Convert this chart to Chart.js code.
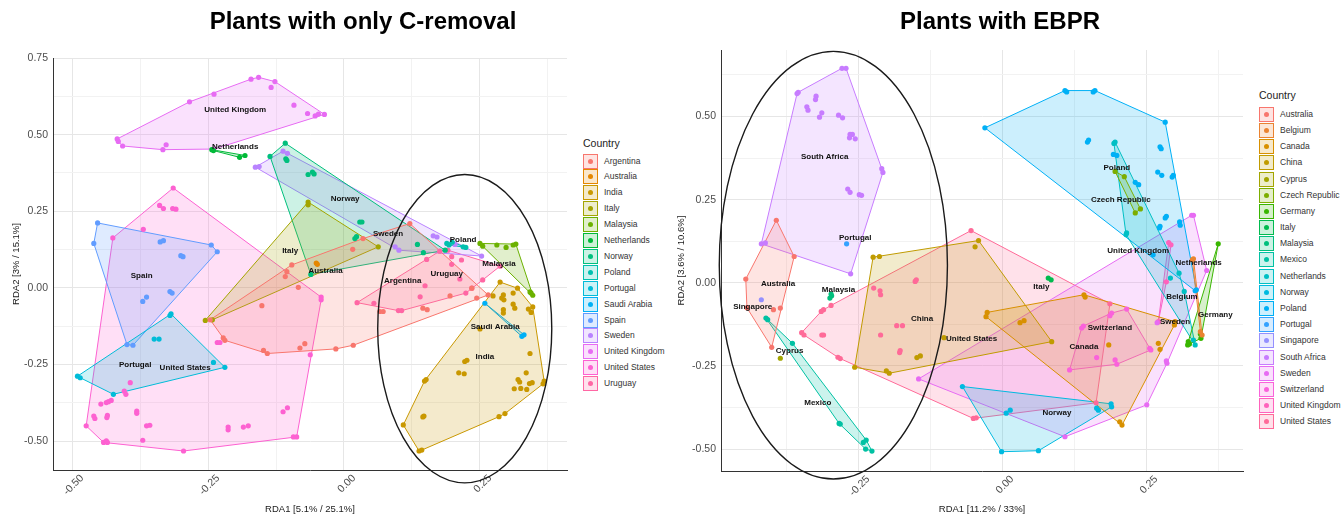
<!DOCTYPE html>
<html>
<head>
<meta charset="utf-8">
<script src="https://cdn.jsdelivr.net/npm/chart.js@4.4.0/dist/chart.umd.min.js"></script>
<style>
  body { margin: 0; background: #fff; font-family: "Liberation Sans", Arial, sans-serif; }
  #wrap { position: relative; width: 1343px; height: 520px; overflow: hidden; }
  canvas { position: absolute; top: 0; }
  .title { position: absolute; top: 7px; font-weight: bold; font-size: 24px; color: #000; transform: translateX(-50%); white-space: nowrap; }
  .legTitle { position: absolute; font-size: 10.5px; color: #222; line-height: 12px; }
  .legRow { position: absolute; height: 15px; font-size: 8.5px; color: #333; line-height: 15px; white-space: nowrap; }
  .key { position: absolute; left: 0; top: 0; width: 13px; height: 13px; border: 1px solid; }
  .key i { position: absolute; left: 4px; top: 4px; width: 5px; height: 5px; border-radius: 50%; }
  .legRow span { position: absolute; left: 21px; top: 0; }
</style>
</head>
<body>
<div id="wrap">
  <canvas id="leftChart" width="575" height="520" style="left:0"></canvas>
  <canvas id="rightChart" width="580" height="520" style="left:670px"></canvas>
  <div class="title" style="left:363px">Plants with only C-removal</div>
  <div class="title" style="left:1000px">Plants with EBPR</div>
</div>
<script>
// ---- panel 1 : plants with only C-removal ----
const leftCountries = ['Argentina', 'Australia', 'India', 'Italy', 'Malaysia', 'Netherlands', 'Norway', 'Poland',
  'Portugal', 'Saudi Arabia', 'Spain', 'Sweden', 'United Kingdom', 'United States', 'Uruguay'];

const leftArgentina = [[-0.246,-0.104],[-0.222,-0.163],[-0.219,-0.171],[-0.151,-0.058],[-0.148,-0.204],[-0.141,-0.214],
  [-0.081,-0.196],[-0.072,-0.182],[-0.015,-0.199],[0.017,-0.187],[-0.084,0.002],[-0.108,0.037],[-0.105,0.053],
  [-0.096,0.075],[0.016,0.126],[0.035,0.161],[0.121,0.210],[0.066,-0.077],[0.072,-0.077],[0.145,-0.066],
  [0.153,-0.071],[0.195,-0.026],[0.235,-0.001],[0.244,-0.033],[0.265,-0.023]];
const leftAustralia = [[-0.051,0.081],[-0.049,0.077]];
const leftIndia = [[0.287,0.019],[0.274,-0.026],[0.293,-0.023],[0.290,-0.033],[0.294,-0.039],[0.311,-0.017],[0.319,-0.001],
  [0.311,-0.053],[0.314,-0.066],[0.293,-0.071],[0.293,-0.082],[0.339,-0.069],[0.344,-0.080],[0.347,-0.062],
  [0.250,-0.134],[0.342,-0.214],[0.226,-0.236],[0.222,-0.240],[0.211,-0.277],[0.221,-0.280],[0.151,-0.299],
  [0.148,-0.304],[0.335,-0.277],[0.320,-0.299],[0.323,-0.307],[0.313,-0.329],[0.325,-0.328],[0.336,-0.331],
  [0.341,-0.312],[0.346,-0.309],[0.368,-0.304],[0.366,-0.313],[0.109,-0.447],[0.145,-0.421],[0.147,-0.418],
  [0.285,-0.420],[0.296,-0.410],[0.138,-0.532],[0.143,-0.529]];
const leftItaly = [[-0.066,0.280],[-0.066,0.271],[0.063,0.134],[-0.255,-0.106],[-0.242,-0.104]];
const leftMalaysia = [[0.250,0.145],[0.255,0.136],[0.281,0.140],[0.298,0.132],[0.311,0.140],[0.316,0.143],
  [0.344,-0.017],[0.347,-0.024],[0.342,-0.013]];
const leftNetherlands = [[-0.243,0.451],[-0.240,0.448],[-0.192,0.426],[-0.182,0.432]];
const leftNorway = [[-0.136,0.429],[-0.108,0.472],[-0.107,0.421],[-0.105,0.416],[-0.066,0.370],[-0.058,0.378],
  [-0.055,0.372],[-0.061,0.044],[0.029,0.215],[0.033,0.215],[0.020,0.161],[0.023,0.167],[0.135,0.142],
  [0.146,0.115],[0.186,0.123]];
const leftPoland = [[0.189,0.145],[0.193,0.140],[0.219,0.134],[0.224,0.132],[0.199,0.149]];
const leftPortugal = [[-0.490,-0.288],[-0.485,-0.293],[-0.424,-0.347],[-0.320,-0.090],[-0.318,-0.085],
  [-0.349,-0.167],[-0.340,-0.167],[-0.240,-0.243],[-0.219,-0.259]];
const leftSaudiArabia = [[0.259,-0.050],[0.327,-0.158],[0.331,-0.153]];
const leftSpain = [[-0.453,0.212],[-0.460,0.145],[-0.338,0.150],[-0.332,0.154],[-0.244,0.140],[-0.233,0.118],
  [-0.300,0.105],[-0.296,0.102],[-0.363,-0.030],[-0.370,-0.044],[-0.320,-0.012],[-0.316,-0.017],
  [-0.399,-0.185],[-0.388,-0.187]];
const leftSweden = [[-0.163,0.394],[-0.156,0.396],[-0.112,0.446],[-0.104,0.439],[0.164,0.170],[0.171,0.166],
  [0.094,0.134],[0.101,0.123],[0.253,0.104],[0.204,0.142]];
const leftUnitedKingdom = [[-0.417,0.486],[-0.415,0.478],[-0.407,0.463],[-0.333,0.451],[-0.327,0.467],[-0.284,0.607],
  [-0.239,0.632],[-0.171,0.681],[-0.157,0.687],[-0.127,0.673],[-0.134,0.654],[-0.092,0.596],[-0.067,0.569],
  [-0.053,0.561],[-0.047,0.567],[-0.036,0.566],[-0.239,0.453]];
const leftUnitedStates = [[-0.314,0.326],[-0.339,0.269],[-0.332,0.259],[-0.315,0.259],[-0.309,0.257],[-0.369,0.191],
  [-0.425,0.163],[-0.042,-0.030],[-0.042,-0.039],[-0.062,-0.218],[-0.393,-0.309],[-0.404,-0.337],[-0.401,-0.347],
  [-0.447,-0.379],[-0.437,-0.374],[-0.433,-0.371],[-0.428,-0.367],[-0.460,-0.418],[-0.458,-0.426],[-0.435,-0.416],
  [-0.436,-0.423],[-0.381,-0.402],[-0.381,-0.409],[-0.363,-0.450],[-0.357,-0.448],[-0.474,-0.450],[-0.370,-0.497],
  [-0.442,-0.504],[-0.437,-0.499],[-0.435,-0.504],[-0.295,-0.532],[-0.213,-0.454],[-0.213,-0.463],[-0.185,-0.454],
  [-0.176,-0.450],[-0.112,-0.404],[-0.104,-0.391],[-0.093,-0.486],[-0.087,-0.486],[-0.233,-0.178],[-0.228,-0.178]];
const leftUruguay = [[0.024,-0.048],[0.055,-0.050],[0.100,-0.074],[0.106,-0.074],[0.176,0.120],[0.191,0.123],
  [0.152,0.093],[0.198,0.102],[0.216,0.091],[0.198,0.077],[0.213,0.029],[0.255,0.026],[0.235,-0.001],
  [0.224,-0.017],[0.140,-0.029],[0.149,0.007],[0.287,0.071]];

const leftSeries = [leftArgentina, leftAustralia, leftIndia, leftItaly, leftMalaysia, leftNetherlands, leftNorway,
  leftPoland, leftPortugal, leftSaudiArabia, leftSpain, leftSweden, leftUnitedKingdom, leftUnitedStates, leftUruguay];

// group label anchors (centroids), same order as leftCountries
const leftLabelX = [0.108, -0.034, 0.259, -0.099, 0.285, -0.200, 0.002, 0.219, -0.384, 0.278, -0.372, 0.081, -0.200, -0.292, 0.189];
const leftLabelY = [0.023, 0.055, -0.225, 0.121, 0.080, 0.459, 0.290, 0.158, -0.252, -0.128, 0.039, 0.178, 0.581, -0.259, 0.045];
// highlighted ellipse: centre x, centre y, radius x, radius y
const leftEllipse = [0.222, -0.133, 0.160, 0.503];
const leftXRange = [-0.535, 0.41];
const leftYRange = [-0.594, 0.75];

// ---- panel 2 : plants with EBPR ----
const rightCountries = ['Australia', 'Belgium', 'Canada', 'China', 'Cyprus', 'Czech Republic', 'Germany', 'Italy',
  'Malaysia', 'Mexico', 'Netherlands', 'Norway', 'Poland', 'Portugal', 'Singapore', 'South Africa', 'Sweden',
  'Switzerland', 'United Kingdom', 'United States'];

const rightAustralia = [[-0.392,0.188],[-0.361,0.079],[-0.445,0.011],[-0.385,-0.076],[-0.397,-0.081],[-0.400,-0.194],[-0.443,-0.075]];
const rightBelgium = [[0.330,0.069],[0.332,0.072],[0.344,-0.147],[0.347,-0.157]];
const rightCanada = [[-0.026,-0.089],[-0.028,-0.102],[0.142,-0.036],[0.144,-0.043],[0.300,-0.117],[0.299,-0.127],
  [0.208,-0.428],[0.204,-0.418],[0.271,-0.182],[0.274,-0.200],[0.185,-0.187],[0.031,-0.120],[0.038,-0.114]];
const rightChina = [[-0.224,0.077],[-0.213,0.079],[-0.041,0.127],[-0.256,-0.254],[-0.201,-0.265],[-0.196,-0.272],
  [-0.148,-0.225],[-0.142,-0.220],[-0.101,-0.165],[0.086,-0.177],[-0.047,0.108]];
const rightCyprus = [[-0.385,-0.227]];
const rightCzechRepublic = [[0.196,0.335],[0.212,0.319],[0.231,0.210],[0.240,0.222]];
const rightGermany = [[0.375,0.117],[0.344,-0.154],[0.345,-0.167],[0.323,-0.177],[0.322,-0.187],[0.325,-0.184]];
const rightItaly = [[0.080,0.014],[0.085,0.009]];
const rightMalaysia = [[-0.297,-0.034],[-0.299,-0.046],[-0.296,-0.039]];
const rightMexico = [[-0.410,-0.106],[-0.407,-0.111],[-0.364,-0.182],[-0.283,-0.423],[-0.281,-0.425],[-0.241,-0.480],
  [-0.236,-0.473],[-0.237,-0.500],[-0.226,-0.506]];
const rightNetherlands = [[0.196,0.423],[0.194,0.419],[0.216,0.150],[0.215,0.145],[0.332,-0.172],[0.335,-0.187],
  [0.307,0.029],[0.316,-0.026],[0.292,0.014]];
const rightNorway = [[-0.069,-0.312],[-0.001,-0.508],[0.063,-0.505],[0.189,-0.364],[0.190,-0.373],[0.164,-0.377],
  [0.167,-0.383],[0.007,-0.392],[0.014,-0.383]];
const rightPoland = [[-0.030,0.466],[0.109,0.578],[0.112,0.574],[0.158,0.574],[0.161,0.578],[0.283,0.483],[0.150,0.429],
  [0.148,0.423],[0.274,0.409],[0.276,0.403],[0.193,0.386],[0.199,0.383],[0.270,0.333],[0.277,0.323],[0.295,0.318],
  [0.297,0.323],[0.231,0.302],[0.237,0.295],[0.283,0.195],[0.285,0.200],[0.274,0.170],[0.273,0.165],[0.308,0.183],
  [0.309,0.173],[0.262,0.084],[0.337,-0.021],[0.335,-0.024]];
const rightPortugal = [[-0.270,0.117]];
const rightSingapore = [[-0.418,-0.051]];
const rightSouthAfrica = [[-0.354,0.573],[-0.356,0.569],[-0.278,0.645],[-0.271,0.645],[-0.323,0.561],[-0.324,0.551],
  [-0.339,0.529],[-0.337,0.519],[-0.313,0.511],[-0.317,0.498],[-0.284,0.504],[-0.277,0.496],[-0.264,0.446],
  [-0.260,0.446],[-0.265,0.436],[-0.255,0.433],[-0.209,0.343],[-0.207,0.332],[-0.268,0.282],[-0.264,0.272],
  [-0.248,0.265],[-0.244,0.263],[-0.418,0.117],[-0.411,0.120],[-0.263,0.027]];
const rightSweden = [[-0.145,-0.289],[0.109,-0.463],[0.251,-0.367],[0.286,-0.242],[0.285,-0.235],[0.269,-0.120],
  [0.329,0.203],[0.332,0.203],[0.355,0.037]];
const rightSwitzerland = [[0.216,-0.079],[0.190,-0.091],[0.187,-0.099],[0.141,-0.130],[0.138,-0.136],[0.164,-0.225],
  [0.196,-0.232],[0.199,-0.245],[0.117,-0.262],[0.256,-0.197],[0.258,-0.202]];
const rightUnitedKingdom = [[0.289,0.121],[0.293,0.114],[0.285,0.003],[0.271,-0.117]];
const rightUnitedStates = [[-0.348,-0.150],[-0.344,-0.157],[-0.313,-0.157],[-0.310,-0.157],[-0.314,-0.086],[-0.310,-0.081],
  [-0.297,-0.068],[-0.285,-0.224],[-0.281,-0.228],[-0.223,-0.016],[-0.212,-0.024],[-0.211,-0.036],[-0.211,-0.157],
  [-0.183,-0.129],[-0.173,-0.129],[-0.177,-0.204],[-0.178,-0.210],[-0.151,0.004],[-0.149,0.009],[-0.050,-0.408],
  [-0.045,-0.406],[-0.054,0.157],[0.187,-0.063],[0.163,-0.361]];

const rightSeries = [rightAustralia, rightBelgium, rightCanada, rightChina, rightCyprus, rightCzechRepublic, rightGermany,
  rightItaly, rightMalaysia, rightMexico, rightNetherlands, rightNorway, rightPoland, rightPortugal, rightSingapore,
  rightSouthAfrica, rightSweden, rightSwitzerland, rightUnitedKingdom, rightUnitedStates];

const rightLabelX = [-0.389, 0.312, 0.142, -0.139, -0.369, 0.206, 0.370, 0.068, -0.284, -0.320, 0.341, 0.095, 0.199,
  -0.255, -0.433, -0.308, 0.300, 0.187, 0.236, -0.053];
const rightLabelY = [-0.003, -0.043, -0.192, -0.108, -0.205, 0.250, -0.096, -0.011, -0.021, -0.361, 0.059, -0.391, 0.347,
  0.135, -0.073, 0.379, -0.118, -0.136, 0.097, -0.169];
const rightEllipse = [-0.293, 0.053, 0.198, 0.643];
const rightXRange = [-0.488, 0.418];
const rightYRange = [-0.566, 0.70];

// ---- helpers ----
const FONT = '"Liberation Sans", Arial, sans-serif';
Chart.defaults.font.family = FONT;

// ggplot default hue palette (hcl, c = 100, l = 65)
function hueColor(h) {
  const L = 65, C = 100, hr = h * Math.PI / 180;
  const U = C * Math.cos(hr), V = C * Math.sin(hr);
  const Xn = 95.047, Yn = 100, Zn = 108.883;
  const den = Xn + 15 * Yn + 3 * Zn;
  const un = 4 * Xn / den, vn = 9 * Yn / den;
  const Y = Yn * Math.pow((L + 16) / 116, 3);
  const u = U / (13 * L) + un, v = V / (13 * L) + vn;
  const X = 9 * Y * u / (4 * v);
  const Z = -X / 3 - 5 * Y + 3 * Y / v;
  const x = X / 100, y = Y / 100, z = Z / 100;
  const lin = [3.240479 * x - 1.537150 * y - 0.498535 * z,
    -0.969256 * x + 1.875992 * y + 0.041556 * z,
    0.055648 * x - 0.204043 * y + 1.057311 * z];
  const rgb = lin.map(c => {
    const g = c <= 0.0031308 ? 12.92 * c : 1.055 * Math.pow(c, 1 / 2.4) - 0.055;
    return Math.round(Math.min(1, Math.max(0, g)) * 255);
  });
  return { solid: `rgb(${rgb.join(',')})`, fill: `rgba(${rgb.join(',')},0.2)` };
}

function palette(n) {
  const out = [];
  for (let i = 0; i < n; i++) out.push(hueColor(15 + 360 * i / n));
  return out;
}

function convexHull(pts) {
  const p = pts.slice().sort((a, b) => a[0] - b[0] || a[1] - b[1]);
  if (p.length < 3) return p;
  const cross = (o, a, b) => (a[0] - o[0]) * (b[1] - o[1]) - (a[1] - o[1]) * (b[0] - o[0]);
  const lower = [], upper = [];
  for (const q of p) {
    while (lower.length >= 2 && cross(lower[lower.length - 2], lower[lower.length - 1], q) <= 0) lower.pop();
    lower.push(q);
  }
  for (let i = p.length - 1; i >= 0; i--) {
    const q = p[i];
    while (upper.length >= 2 && cross(upper[upper.length - 2], upper[upper.length - 1], q) <= 0) upper.pop();
    upper.push(q);
  }
  lower.pop(); upper.pop();
  return lower.concat(upper);
}

function buildDatasets(series, colors) {
  const ds = [];
  series.forEach((pts, i) => {
    const col = colors[i];
    if (pts.length > 1) {
      const h = convexHull(pts);
      h.push(h[0]);
      ds.push({
        type: 'line', data: h.map(p => ({ x: p[0], y: p[1] })), fill: 'shape',
        borderColor: col.solid, backgroundColor: col.fill, borderWidth: 1,
        pointRadius: 0, tension: 0, order: 2
      });
    }
    ds.push({
      type: 'scatter', data: pts.map(p => ({ x: p[0], y: p[1] })),
      backgroundColor: col.solid, borderWidth: 0, pointRadius: 2.6, order: 1
    });
  });
  return ds;
}

function overlay(countries, lx, ly, ell) {
  return {
    id: 'overlay',
    afterDatasetsDraw(chart) {
      const { ctx, scales: { x, y } } = chart;
      ctx.save();
      const cx = x.getPixelForValue(ell[0]), cy = y.getPixelForValue(ell[1]);
      const rx = Math.abs(x.getPixelForValue(ell[0] + ell[2]) - cx);
      const ry = Math.abs(y.getPixelForValue(ell[1] + ell[3]) - cy);
      ctx.beginPath();
      ctx.ellipse(cx, cy, rx, ry, 0, 0, Math.PI * 2);
      ctx.strokeStyle = '#1a1a1a';
      ctx.lineWidth = 1.4;
      ctx.stroke();
      ctx.font = 'bold 8px ' + FONT;
      ctx.fillStyle = '#111';
      ctx.textAlign = 'center';
      ctx.textBaseline = 'middle';
      countries.forEach((c, i) => ctx.fillText(c, x.getPixelForValue(lx[i]), y.getPixelForValue(ly[i])));
      ctx.restore();
    }
  };
}

const isMajor = v => Math.abs(v / 0.25 - Math.round(v / 0.25)) < 1e-6;
const tickText = v => isMajor(v) ? (Math.abs(v) < 1e-9 ? 0 : v).toFixed(2) : '';
const gridColor = c => (c.tick && isMajor(c.tick.value)) ? '#e6e6e6' : '#f2f2f2';

function makeChart(id, cfg) {
  const colors = palette(cfg.countries.length);
  new Chart(document.getElementById(id), {
    type: 'scatter',
    data: { datasets: buildDatasets(cfg.series, colors) },
    options: {
      responsive: false,
      animation: false,
      events: [],
      layout: { padding: { left: 0, top: cfg.top, right: cfg.right, bottom: 0 } },
      plugins: { legend: { display: false }, tooltip: { enabled: false } },
      scales: {
        x: {
          type: 'linear', min: cfg.xr[0], max: cfg.xr[1],
          afterFit: s => { s.height = cfg.xHeight; },
          ticks: {
            stepSize: 0.125, includeBounds: false, autoSkip: false, minRotation: 45, maxRotation: 45,
            padding: 2, labelOffset: 10, color: '#4d4d4d', font: { size: 10.5 }, callback: tickText
          },
          grid: { color: gridColor, lineWidth: 1, drawTicks: false },
          border: { display: true, color: '#333', width: 1 },
          title: { display: true, text: cfg.xTitle, color: '#1a1a1a', font: { size: 9.5 }, padding: { top: 0, bottom: 5 } }
        },
        y: {
          type: 'linear', min: cfg.yr[0], max: cfg.yr[1],
          afterFit: s => { s.width = cfg.yWidth; },
          ticks: { stepSize: 0.125, includeBounds: false, autoSkip: false, padding: 5, color: '#4d4d4d', font: { size: 10.5 }, callback: tickText },
          grid: { color: gridColor, lineWidth: 1, drawTicks: false },
          border: { display: true, color: '#333', width: 1 },
          title: { display: true, text: cfg.yTitle, color: '#1a1a1a', font: { size: 9.5 }, padding: { top: cfg.yTitlePad, bottom: 0 } }
        }
      }
    },
    plugins: [overlay(cfg.countries, cfg.lx, cfg.ly, cfg.ell)]
  });
  return colors;
}

function makeLegend(countries, colors, keyLeft, titleY, firstY, step) {
  const wrap = document.getElementById('wrap');
  const t = document.createElement('div');
  t.className = 'legTitle';
  t.style.left = keyLeft + 'px';
  t.style.top = (titleY - 6) + 'px';
  t.textContent = 'Country';
  wrap.appendChild(t);
  countries.forEach((c, i) => {
    const row = document.createElement('div');
    row.className = 'legRow';
    row.style.left = keyLeft + 'px';
    row.style.top = (firstY + i * step - 7.5) + 'px';
    const key = document.createElement('div');
    key.className = 'key';
    key.style.borderColor = colors[i].solid;
    key.style.background = colors[i].fill;
    const dot = document.createElement('i');
    dot.style.background = colors[i].solid;
    key.appendChild(dot);
    const lab = document.createElement('span');
    lab.textContent = c;
    row.appendChild(key);
    row.appendChild(lab);
    wrap.appendChild(row);
  });
}

const leftColors = makeChart('leftChart', {
  countries: leftCountries, series: leftSeries, lx: leftLabelX, ly: leftLabelY, ell: leftEllipse,
  xr: leftXRange, yr: leftYRange, top: 58, right: 8, xHeight: 50, yWidth: 53, yTitlePad: 11,
  xTitle: 'RDA1 [5.1% / 25.1%]', yTitle: 'RDA2 [3% / 15.1%]'
});
const rightColors = makeChart('rightChart', {
  countries: rightCountries, series: rightSeries, lx: rightLabelX, ly: rightLabelY, ell: rightEllipse,
  xr: rightXRange, yr: rightYRange, top: 50, right: 7, xHeight: 49, yWidth: 51, yTitlePad: 6,
  xTitle: 'RDA1 [11.2% / 33%]', yTitle: 'RDA2 [3.6% / 10.6%]'
});

makeLegend(leftCountries, leftColors, 583, 143, 161, 15.9);
makeLegend(rightCountries, rightColors, 1259, 95, 114.3, 16.18);
</script>
</body>
</html>
